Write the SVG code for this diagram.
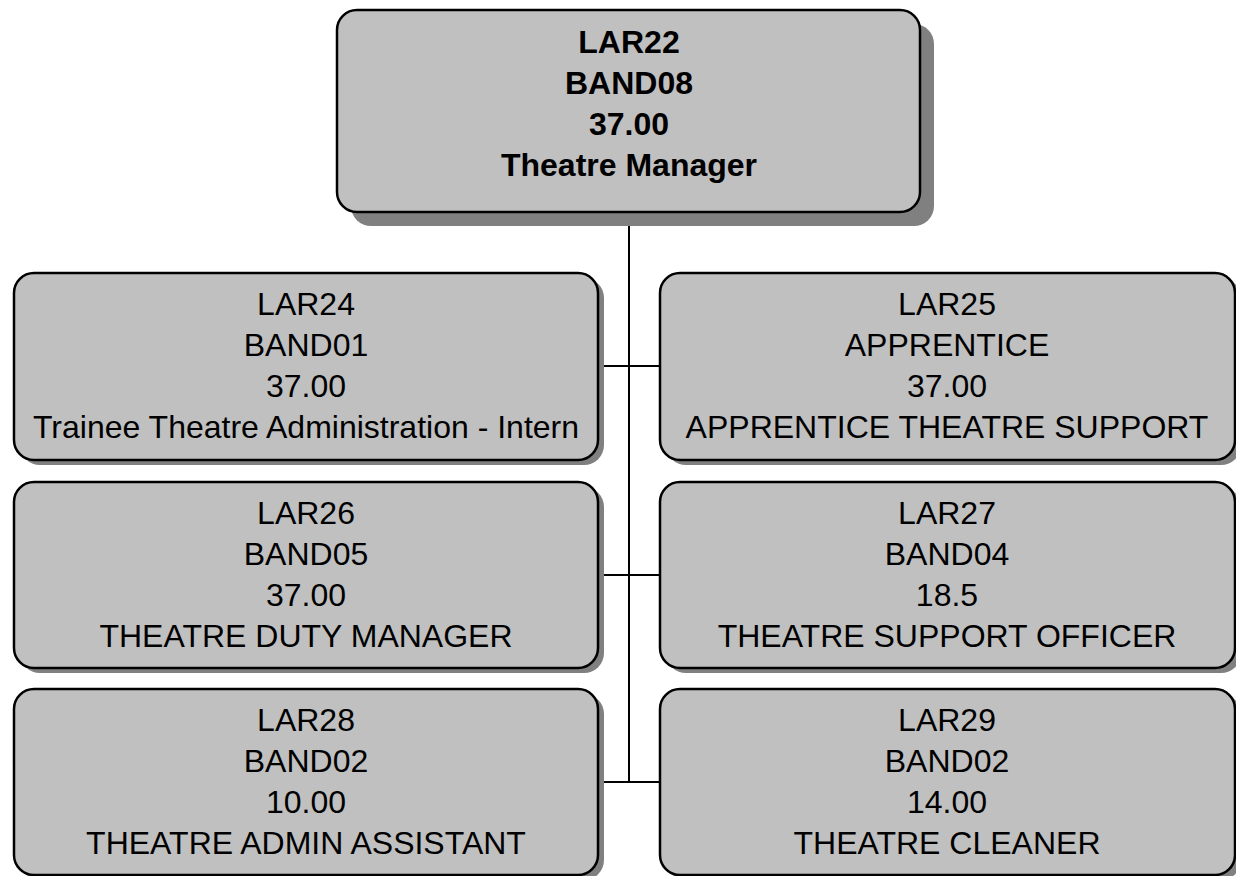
<svg xmlns="http://www.w3.org/2000/svg" width="1236" height="876" viewBox="0 0 1236 876">
<style>
.box{fill:#C0C0C0;stroke:#000;stroke-width:2.5}
.sh{fill:#808080}
.t{font-family:"Liberation Sans",Arial,sans-serif;font-size:32px;fill:#000;text-anchor:middle}
.b{font-weight:bold;font-size:32px}
.c{stroke:#000;stroke-width:2;fill:none}
</style>
<rect width="1236" height="876" fill="#fff"/>
<g id="connectors">
<path class="c" d="M629 211V782M598 366H660M598 575H660M598 782H660"/>
</g>
<g id="n22">
<rect class="sh" x="351" y="24" width="583" height="202" rx="20"/>
<rect class="box" x="337" y="10" width="583" height="202" rx="20"/>
<text class="t b" x="629" y="53">LAR22</text>
<text class="t b" x="629" y="94">BAND08</text>
<text class="t b" x="629" y="135">37.00</text>
<text class="t b" x="629" y="176">Theatre Manager</text>
</g>
<g id="n24">
<rect class="sh" x="20" y="278" width="584" height="187" rx="20"/>
<rect class="box" x="14" y="273" width="584" height="187" rx="20"/>
<text class="t" x="306" y="315">LAR24</text>
<text class="t" x="306" y="356">BAND01</text>
<text class="t" x="306" y="397">37.00</text>
<text class="t" x="306" y="438">Trainee Theatre Administration - Intern</text>
</g>
<g id="n25">
<rect class="sh" x="666" y="278" width="575" height="187" rx="20"/>
<rect class="box" x="660" y="273" width="575" height="187" rx="20"/>
<text class="t" x="947" y="315">LAR25</text>
<text class="t" x="947" y="356">APPRENTICE</text>
<text class="t" x="947" y="397">37.00</text>
<text class="t" x="947" y="438">APPRENTICE THEATRE SUPPORT</text>
</g>
<g id="n26">
<rect class="sh" x="20" y="487" width="584" height="186" rx="20"/>
<rect class="box" x="14" y="482" width="584" height="186" rx="20"/>
<text class="t" x="306" y="524">LAR26</text>
<text class="t" x="306" y="565">BAND05</text>
<text class="t" x="306" y="606">37.00</text>
<text class="t" x="306" y="647">THEATRE DUTY MANAGER</text>
</g>
<g id="n27">
<rect class="sh" x="666" y="487" width="575" height="186" rx="20"/>
<rect class="box" x="660" y="482" width="575" height="186" rx="20"/>
<text class="t" x="947" y="524">LAR27</text>
<text class="t" x="947" y="565">BAND04</text>
<text class="t" x="947" y="606">18.5</text>
<text class="t" x="947" y="647">THEATRE SUPPORT OFFICER</text>
</g>
<g id="n28">
<rect class="sh" x="20" y="694" width="584" height="186" rx="20"/>
<rect class="box" x="14" y="689" width="584" height="186" rx="20"/>
<text class="t" x="306" y="731">LAR28</text>
<text class="t" x="306" y="772">BAND02</text>
<text class="t" x="306" y="813">10.00</text>
<text class="t" x="306" y="854">THEATRE ADMIN ASSISTANT</text>
</g>
<g id="n29">
<rect class="sh" x="666" y="694" width="575" height="186" rx="20"/>
<rect class="box" x="660" y="689" width="575" height="186" rx="20"/>
<text class="t" x="947" y="731">LAR29</text>
<text class="t" x="947" y="772">BAND02</text>
<text class="t" x="947" y="813">14.00</text>
<text class="t" x="947" y="854">THEATRE CLEANER</text>
</g>
</svg>
